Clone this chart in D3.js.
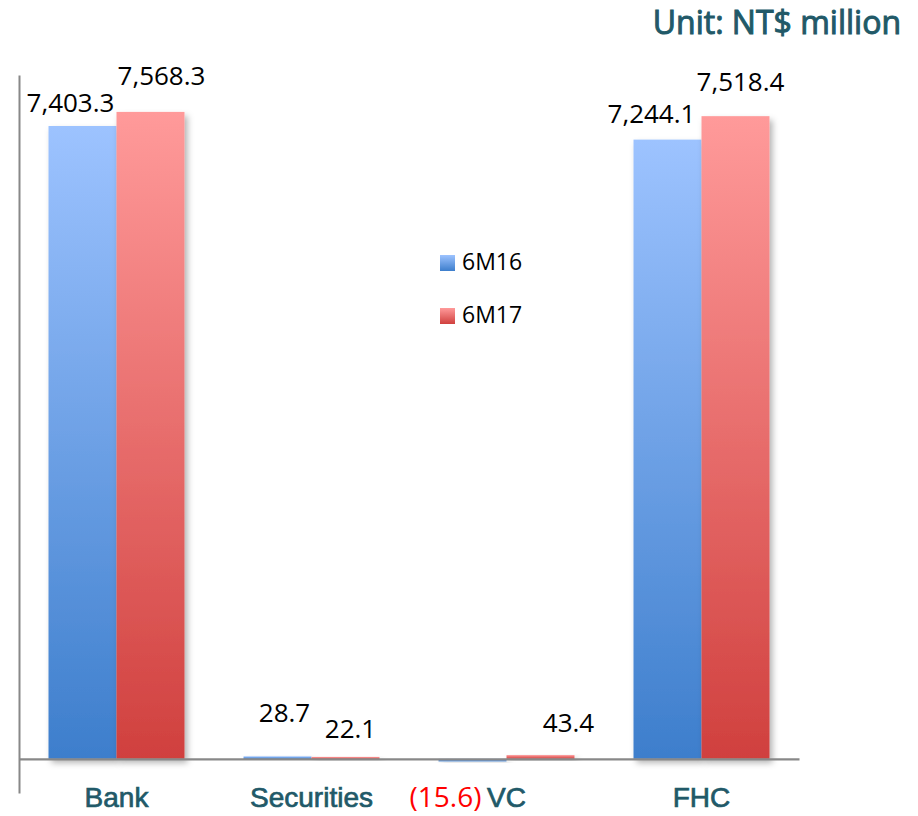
<!DOCTYPE html>
<html lang="en">
<head>
<meta charset="UTF-8"/>
<title>Net income by subsidiary</title>
<script type="text/javascript" src="https://cdn.jsdelivr.net/npm/d3@7/dist/d3.min.js"></script>
<style>
body { margin: 0; background: #fff; }
svg { display: block; font-family: "Open Sans", "Noto Sans", sans-serif; }
.value { font-size: 26px; fill: #000; }
.value.neg { font-size: 28px; }
.cat text { font-size: 28px; font-weight: 400; fill: #215968; stroke: #215968; stroke-width: 0.7px; }
.legend text { font-size: 23px; fill: #000; }
.title { font-size: 32px; font-weight: 400; fill: #215968; stroke: #215968; stroke-width: 1px; }
</style>
</head>
<body>
<svg id="viz"></svg>
<script type="text/javascript">
// data
var categories = ["Bank", "Securities", "VC", "FHC"];
var seriesNames = ["6M16", "6M17"];
var values6M16 = [7403.3, 28.7, -15.6, 7244.1];
var values6M17 = [7568.3, 22.1, 43.4, 7518.4];

// label nudges (px) relative to bar center / bar end, hand placed like the slide
var nudge6M16 = [[-12, -14], [7, -34], [-27, 47], [-16, -17]];
var nudge6M17 = [[11, -27], [5, -19], [28, -23], [5, -25]];

var width = 918, height = 816;
var svg = d3.select("#viz").attr("width", width).attr("height", height);

var x0 = d3.scaleBand().domain(categories).range([19, 799]).padding(0);
var x1 = d3.scaleBand().domain(seriesNames).range([0, x0.bandwidth()])
	.paddingInner(0).paddingOuter(0.434);
var y = d3.scaleLinear().domain([-400, 8000]).range([793, 75]);

var defs = svg.append("defs");
function grad(id, top, bottom) {
	var g = defs.append("linearGradient").attr("id", id)
		.attr("x1", 0).attr("y1", 0).attr("x2", 0).attr("y2", 1);
	g.append("stop").attr("offset", "0%").attr("stop-color", top);
	g.append("stop").attr("offset", "100%").attr("stop-color", bottom);
}
grad("g6M16", "#9dc3ff", "#3d7ecc");
grad("g6M17", "#ff9a9a", "#d0403e");
var shadow = defs.append("filter").attr("id", "shadow")
	.attr("x", "-20%").attr("y", "-20%").attr("width", "160%").attr("height", "160%");
shadow.append("feDropShadow").attr("dx", 3).attr("dy", 4)
	.attr("stdDeviation", 3).attr("flood-color", "#000").attr("flood-opacity", 0.3);

var seriesData = [
	{name: "6M16", values: values6M16, nudge: nudge6M16},
	{name: "6M17", values: values6M17, nudge: nudge6M17}
];

// bars
var groups = svg.append("g").attr("class", "bars")
	.selectAll("g").data(seriesData).enter().append("g")
	.attr("fill", function(s) { return "url(#g" + s.name + ")"; });

groups.selectAll("rect")
	.data(function(s) { return s.values.map(function(v, i) { return {cat: categories[i], v: v, s: s.name}; }); })
	.enter().append("rect")
	.attr("x", function(d) { return x0(d.cat) + x1(d.s); })
	.attr("width", x1.bandwidth())
	.attr("y", function(d) { return y(Math.max(0, d.v)); })
	.attr("height", function(d) { return Math.max(2.6, Math.abs(y(d.v) - y(0))); })
	.attr("filter", "url(#shadow)");

// axes
var yAxis = svg.append("g").attr("transform", "translate(19,0)")
	.call(d3.axisLeft(y).tickValues([]).tickSizeOuter(0));
yAxis.select(".domain").attr("stroke", "#888").attr("stroke-width", 2);

var xAxis = svg.append("g").attr("class", "cat").attr("transform", "translate(0," + y(0) + ")")
	.call(d3.axisBottom(x0).tickSize(0).tickSizeOuter(0).tickPadding(28));
xAxis.select(".domain").attr("stroke", "#888").attr("stroke-width", 2.2);
xAxis.selectAll("text").attr("font-family", null).attr("font-size", null).attr("fill", null);

// value labels
var fmt = d3.format(",.1f");
seriesData.forEach(function(s) {
	svg.append("g").selectAll("text")
		.data(s.values).enter().append("text")
		.attr("class", function(v) { return v < 0 ? "value neg" : "value"; })
		.attr("text-anchor", "middle")
		.attr("x", function(v, i) { return x0(categories[i]) + x1(s.name) + x1.bandwidth() / 2 + s.nudge[i][0]; })
		.attr("y", function(v, i) { return y(v) + s.nudge[i][1]; })
		.style("fill", function(v) { return v < 0 ? "#ff0000" : null; })
		.text(function(v) { return v < 0 ? "(" + fmt(-v) + ")" : fmt(v); });
});

// legend
var legend = svg.append("g").attr("class", "legend").attr("transform", "translate(440,255)")
	.selectAll("g").data(seriesNames).enter().append("g")
	.attr("transform", function(d, i) { return "translate(0," + (i * 53) + ")"; });
legend.append("rect").attr("width", 15).attr("height", 16)
	.attr("fill", function(d) { return "url(#g" + d + ")"; });
legend.append("text").attr("x", 22).attr("y", 15).text(function(d) { return d; });

// unit
svg.append("text").attr("class", "title").attr("text-anchor", "end")
	.attr("x", 901).attr("y", 34).text("Unit: NT$ million");
</script>
</body>
</html>
